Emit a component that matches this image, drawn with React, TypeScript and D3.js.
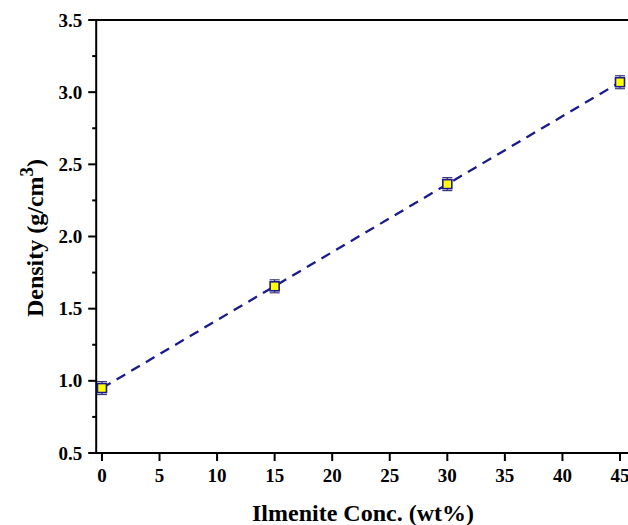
import React from 'react';
import * as d3 from 'd3';

// Ilmenite concentration (wt%) vs density (g/cm3)
const concentrations = [0, 15, 30, 45];
const densities = [0.95, 1.655, 2.363, 3.069];
const errors = [0.045, 0.045, 0.045, 0.045];
const xTicks = [0, 5, 10, 15, 20, 25, 30, 35, 40, 45];
const yTicks = [0.5, 1.0, 1.5, 2.0, 2.5, 3.0, 3.5];
const yMinorTicks = [0.75, 1.25, 1.75, 2.25, 2.75, 3.25];

const width = 628;
const height = 525;
const font = 'Liberation Serif';
const navy = '#1a1a8c';

export default function App() {
  const x = d3.scaleLinear().domain([-0.5, 46]).range([96.2, 631.5]);
  const y = d3.scaleLinear().domain([0.5, 3.5]).range([453, 20]);

  // least squares fit for the dashed line
  const mx = d3.mean(concentrations)!;
  const my = d3.mean(densities)!;
  const slope =
    d3.sum(concentrations, (c, i) => (c - mx) * (densities[i] - my)) /
    d3.sum(concentrations, (c) => (c - mx) ** 2);
  const intercept = my - slope * mx;
  const fitLine = d3
    .line<number>()
    .x((c) => x(c))
    .y((c) => y(intercept + slope * c));
  const fitX = [0, 45];

  const left = x(-0.5);
  const right = x(46);
  const top = y(3.5);
  const bottom = y(0.5);

  return (
    <svg
      width={width}
      height={height}
      fontFamily={font}
      style={{ position: 'absolute', left: 0, top: 0, display: 'block' }}
    >
      <rect width={width} height={height} fill="#fff" />

      {/* frame */}
      <line x1={left} x2={right} y1={top} y2={top} stroke="#000" strokeWidth={2} />
      <line x1={right} x2={right} y1={top} y2={bottom} stroke="#000" strokeWidth={2} />
      <line x1={left} x2={left} y1={top - 1} y2={bottom + 1} stroke="#000" strokeWidth={2} />
      <line x1={left - 1} x2={right} y1={bottom} y2={bottom} stroke="#000" strokeWidth={2} />

      {/* y ticks */}
      {yTicks.map((t) => (
        <g key={t}>
          <line x1={left - 8} x2={left} y1={y(t)} y2={y(t)} stroke="#000" strokeWidth={2} />
          <text
            x={left - 14}
            y={y(t)}
            dy="0.35em"
            textAnchor="end"
            fontFamily={font}
            fontWeight="bold"
            fontSize={19}
          >
            {t.toFixed(1)}
          </text>
        </g>
      ))}
      {yMinorTicks.map((t) => (
        <line key={t} x1={left - 4} x2={left} y1={y(t)} y2={y(t)} stroke="#000" strokeWidth={2} />
      ))}

      {/* x ticks */}
      {xTicks.map((t) => (
        <g key={t}>
          <line x1={x(t)} x2={x(t)} y1={bottom} y2={bottom + 8} stroke="#000" strokeWidth={2} />
          <text
            x={x(t)}
            y={bottom + 29}
            textAnchor="middle"
            fontFamily={font}
            fontWeight="bold"
            fontSize={19}
          >
            {t}
          </text>
        </g>
      ))}

      {/* axis titles */}
      <text
        x={363}
        y={521}
        textAnchor="middle"
        fontFamily={font}
        fontWeight="bold"
        fontSize={24}
      >
        Ilmenite Conc. (wt%)
      </text>
      <text
        transform={`translate(43,238) rotate(-90)`}
        textAnchor="middle"
        fontFamily={font}
        fontWeight="bold"
        fontSize={24}
      >
        Density (g/cm<tspan dy={-10} fontSize={19}>3</tspan>
        <tspan dy={10}>)</tspan>
      </text>

      {/* fit line */}
      <path
        d={fitLine(fitX) ?? ''}
        fill="none"
        stroke={navy}
        strokeWidth={2.3}
        strokeDasharray="10,7"
      />

      {/* error bars and markers */}
      {concentrations.map((c, i) => {
        const cx = x(c);
        const cy = y(densities[i]);
        const yTop = y(densities[i] + errors[i]);
        const yBot = y(densities[i] - errors[i]);
        return (
          <g key={c}>
            <line x1={cx} x2={cx} y1={yTop} y2={yBot} stroke="#3a3a7a" strokeWidth={1.2} />
            <line x1={cx - 5} x2={cx + 5} y1={yTop} y2={yTop} stroke="#3a3a7a" strokeWidth={1.2} />
            <line x1={cx - 5} x2={cx + 5} y1={yBot} y2={yBot} stroke="#3a3a7a" strokeWidth={1.2} />
            <rect
              x={cx - 4.5}
              y={cy - 4.5}
              width={9}
              height={9}
              fill="#ffff00"
              stroke={navy}
              strokeWidth={1.6}
            />
          </g>
        );
      })}
    </svg>
  );
}
